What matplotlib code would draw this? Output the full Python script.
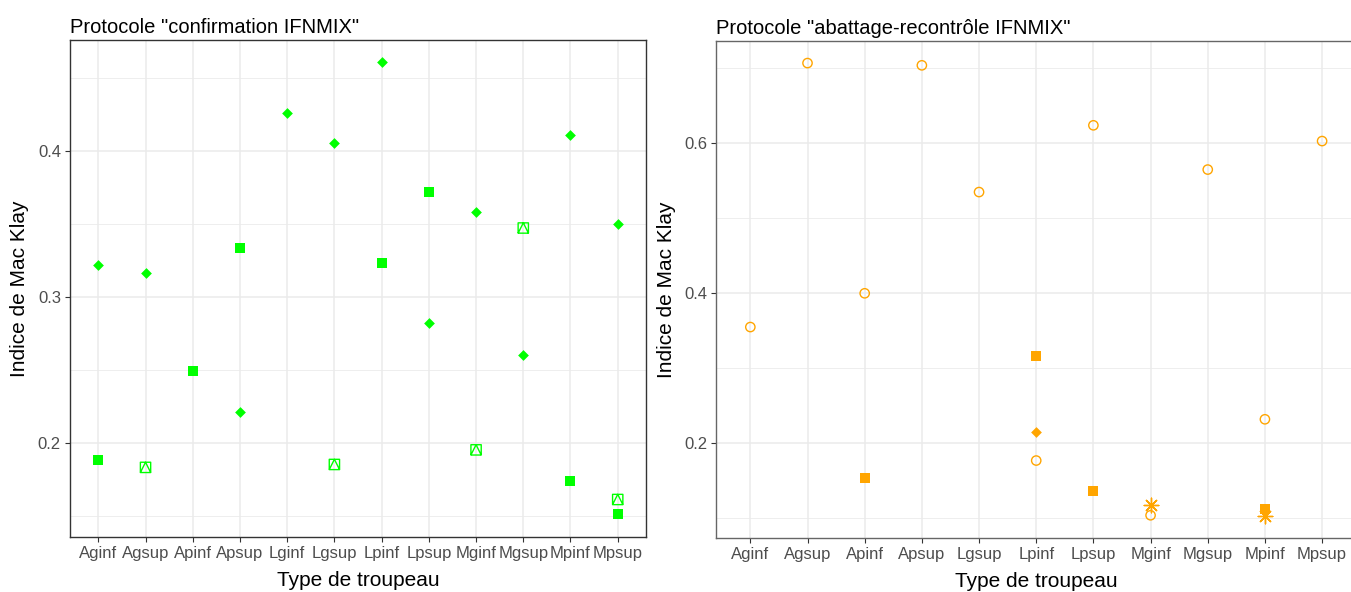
import matplotlib
matplotlib.use("Agg")
from matplotlib import pyplot as plt
from matplotlib.path import Path

plt.rcParams['font.family'] = ['Liberation Sans', 'DejaVu Sans']

# left panel : protocole "confirmation IFNMIX"
cats_left = ["Aginf", "Agsup", "Apinf", "Apsup", "Lginf", "Lgsup",
             "Lpinf", "Lpsup", "Mginf", "Mgsup", "Mpinf", "Mpsup"]
left_diamond_cat = ["Aginf", "Agsup", "Apsup", "Lginf", "Lgsup", "Lpinf",
                    "Lpsup", "Mginf", "Mgsup", "Mpinf", "Mpsup"]
left_diamond_val = [0.322, 0.316, 0.221, 0.426, 0.405, 0.461,
                    0.282, 0.358, 0.260, 0.411, 0.350]
left_square_cat = ["Aginf", "Apinf", "Apsup", "Lpinf", "Lpsup", "Mpinf", "Mpsup"]
left_square_val = [0.188, 0.249, 0.333, 0.323, 0.372, 0.174, 0.151]
left_sqtri_cat = ["Agsup", "Lgsup", "Mginf", "Mgsup", "Mpsup"]
left_sqtri_val = [0.183, 0.185, 0.195, 0.347, 0.161]

# right panel : protocole "abattage-recontrôle IFNMIX"
cats_right = ["Aginf", "Agsup", "Apinf", "Apsup", "Lgsup", "Lpinf",
              "Lpsup", "Mginf", "Mgsup", "Mpinf", "Mpsup"]
right_circle_cat = ["Aginf", "Agsup", "Apinf", "Apsup", "Lgsup", "Lpinf",
                    "Lpsup", "Mginf", "Mgsup", "Mpinf", "Mpsup"]
right_circle_val = [0.355, 0.707, 0.400, 0.704, 0.535, 0.177,
                    0.624, 0.104, 0.565, 0.232, 0.603]
right_square_cat = ["Apinf", "Lpinf", "Lpsup", "Mpinf"]
right_square_val = [0.154, 0.317, 0.136, 0.113]
right_diamond_cat = ["Lpinf"]
right_diamond_val = [0.215]
right_star_cat = ["Mginf", "Mpinf"]
right_star_val = [0.118, 0.103]

green = "#00FF00"
orange = "#FFA500"

# square with a triangle inside (like R pch 14)
sq_tri = Path([(-1, -1), (1, -1), (1, 1), (-1, 1), (-1, -1),
               (-1, -1), (0, 1), (1, -1)],
              [Path.MOVETO, Path.LINETO, Path.LINETO, Path.LINETO, Path.CLOSEPOLY,
               Path.MOVETO, Path.LINETO, Path.LINETO])


def style_axes(ax, cats, ylim, major, minor, spine_col):
    ax.set_xlim(-0.6, len(cats) - 0.4)
    ax.set_ylim(*ylim)
    ax.set_xticks(range(len(cats)))
    ax.set_xticklabels(cats)
    ax.set_yticks(major)
    ax.set_yticks(minor, minor=True)
    ax.grid(True, which="major", color="#EBEBEB", lw=1.1)
    ax.grid(True, which="minor", axis="y", color="#EBEBEB", lw=0.6)
    ax.set_axisbelow(True)
    ax.tick_params(which="minor", length=0)
    ax.tick_params(which="major", length=3.5, width=0.8, color="#333333",
                   labelcolor="#4D4D4D", labelsize=12, pad=3)
    for s in ax.spines.values():
        s.set_color(spine_col)
        s.set_linewidth(1.0)
    ax.set_xlabel("Type de troupeau", fontsize=15, labelpad=7)
    ax.set_ylabel("Indice de Mac Klay", fontsize=15, labelpad=6)


fig = plt.figure(figsize=(13.51, 5.92), dpi=100)

ax1 = fig.add_axes([0.0518, 0.0929, 0.4264, 0.8395])
pos = {c: i for i, c in enumerate(cats_left)}
ax1.scatter([pos[c] for c in left_diamond_cat], left_diamond_val,
            marker="D", s=30, color=green, lw=0, zorder=3)
ax1.scatter([pos[c] for c in left_square_cat], left_square_val,
            marker="s", s=60, color=green, lw=0, zorder=3)
ax1.scatter([pos[c] for c in left_sqtri_cat], left_sqtri_val,
            marker=sq_tri, s=55, facecolors="none", edgecolors=green, lw=1.0, zorder=3)
style_axes(ax1, cats_left, (0.1353, 0.4758), [0.2, 0.3, 0.4],
           [0.15, 0.25, 0.35, 0.45], "#333333")
ax1.set_title('Protocole "confirmation IFNMIX"', loc="left", fontsize=14.5, pad=5)

ax2 = fig.add_axes([0.5300, 0.0912, 0.474, 0.8395])
pos = {c: i for i, c in enumerate(cats_right)}
ax2.scatter([pos[c] for c in right_circle_cat], right_circle_val,
            marker="o", s=45, facecolors="none", edgecolors=orange, lw=1.0, zorder=3)
ax2.scatter([pos[c] for c in right_square_cat], right_square_val,
            marker="s", s=60, color=orange, lw=0, zorder=3)
ax2.scatter([pos[c] for c in right_diamond_cat], right_diamond_val,
            marker="D", s=30, color=orange, lw=0, zorder=3)
ax2.scatter([pos[c] for c in right_star_cat], right_star_val,
            marker=(8, 2, 0), s=110, color=orange, lw=1.0, zorder=3)
style_axes(ax2, cats_right, (0.0737, 0.7364), [0.2, 0.4, 0.6],
           [0.1, 0.3, 0.5, 0.7], "#666666")
ax2.set_title('Protocole "abattage-recontrôle IFNMIX"', loc="left", fontsize=14.5, pad=5)

fig.savefig("out.png", dpi=100)
